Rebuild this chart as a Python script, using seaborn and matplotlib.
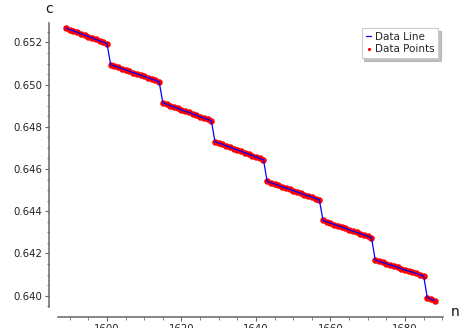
import matplotlib
matplotlib.use("Agg")
import matplotlib.pyplot as plt
from matplotlib.ticker import MultipleLocator
import seaborn as sns
import pandas as pd

# ---- data ----
n_start = 1589
n_end = 1688
seg1 = [0.65268, 0.65261, 0.65255, 0.65248, 0.65241, 0.65234, 0.65228, 0.65221,
        0.65214, 0.65207, 0.65201, 0.65194]
seg2 = [0.65094, 0.65088, 0.65082, 0.65076, 0.65070, 0.65063, 0.65057, 0.65051,
        0.65045, 0.65039, 0.65033, 0.65026, 0.65020, 0.65014]
seg3 = [0.64913, 0.64907, 0.64900, 0.64894, 0.64887, 0.64881, 0.64874, 0.64868,
        0.64861, 0.64855, 0.64848, 0.64842, 0.64835, 0.64829]
seg4 = [0.64730, 0.64723, 0.64717, 0.64710, 0.64704, 0.64697, 0.64690, 0.64684,
        0.64677, 0.64670, 0.64664, 0.64657, 0.64650, 0.64644]
seg5 = [0.64541, 0.64535, 0.64529, 0.64522, 0.64516, 0.64510, 0.64504, 0.64498,
        0.64491, 0.64485, 0.64479, 0.64473, 0.64467, 0.64460, 0.64454]
seg6 = [0.64356, 0.64350, 0.64344, 0.64337, 0.64331, 0.64325, 0.64319, 0.64312,
        0.64306, 0.64300, 0.64294, 0.64287, 0.64281, 0.64275]
seg7 = [0.64169, 0.64163, 0.64157, 0.64151, 0.64146, 0.64140, 0.64134, 0.64128,
        0.64122, 0.64116, 0.64111, 0.64105, 0.64099, 0.64093]
seg8 = [0.63990, 0.63983, 0.63976]

c_values = seg1 + seg2 + seg3 + seg4 + seg5 + seg6 + seg7 + seg8
n_values = list(range(n_start, n_end + 1))
x_label = "n"
y_label = "c"
line_label = "Data Line"
points_label = "Data Points"

df = pd.DataFrame({"n": n_values, "c": c_values})

sns.set_theme(style="white")
plt.rcParams["font.family"] = ["DejaVu Sans"]

W, H = 460, 328
fig = plt.figure(figsize=(W / 100, H / 100), dpi=100)
ax = fig.add_axes([58 / W, 1 - 307 / H, 385 / W, (307 - 23) / H])

sns.scatterplot(data=df, x="n", y="c", ax=ax, color="red", s=22, linewidth=0,
                label=points_label, zorder=2)
sns.lineplot(data=df, x="n", y="c", ax=ax, color="blue", linewidth=0.9,
             label=line_label, zorder=3)

ax.set_xlim(1586.85, 1690.2)
ax.set_ylim(0.63946, 0.65292)
ax.set_xlabel("")
ax.set_ylabel("")

axis_col = "#666666"
for s in ["top", "right"]:
    ax.spines[s].set_visible(False)
ax.spines["left"].set_position(("outward", 6.5))
ax.spines["bottom"].set_position(("outward", 7.2))
for s in ["left", "bottom"]:
    ax.spines[s].set_color(axis_col)
    ax.spines[s].set_linewidth(1.1)

ax.xaxis.set_major_locator(MultipleLocator(20))
ax.xaxis.set_minor_locator(MultipleLocator(5))
ax.yaxis.set_major_locator(MultipleLocator(0.002))
ax.yaxis.set_minor_locator(MultipleLocator(0.0005))
ax.yaxis.set_major_formatter(plt.FormatStrFormatter("%.3f"))
ax.tick_params(which="major", direction="out", length=3, width=0.8,
               color=axis_col, labelsize=7.3, labelcolor="#222222", pad=2,
               bottom=True, left=True)
ax.tick_params(which="minor", direction="out", length=1.8, width=0.6,
               color=axis_col, bottom=True, left=True)

fig.text(45 / W, 1 - 13 / H, y_label, fontsize=10, color="#111111",
         ha="left", va="baseline")
fig.text(451 / W, 1 - 316 / H, x_label, fontsize=10, color="#111111",
         ha="left", va="baseline")

handles, labels = ax.get_legend_handles_labels()
order = [labels.index(line_label), labels.index(points_label)]
leg = ax.legend([handles[i] for i in order], [labels[i] for i in order],
                loc="upper right", bbox_to_anchor=(0.988, 0.983),
                fontsize=7.5, handlelength=0.55, handletextpad=0.3,
                borderpad=0.4, labelspacing=0.15, borderaxespad=0,
                fancybox=False, shadow={"color": "#999999", "alpha": 0.6},
                framealpha=1, edgecolor="#cccccc", markerscale=0.5)
leg.get_frame().set_linewidth(0.8)

fig.savefig("out.png", dpi=100)
